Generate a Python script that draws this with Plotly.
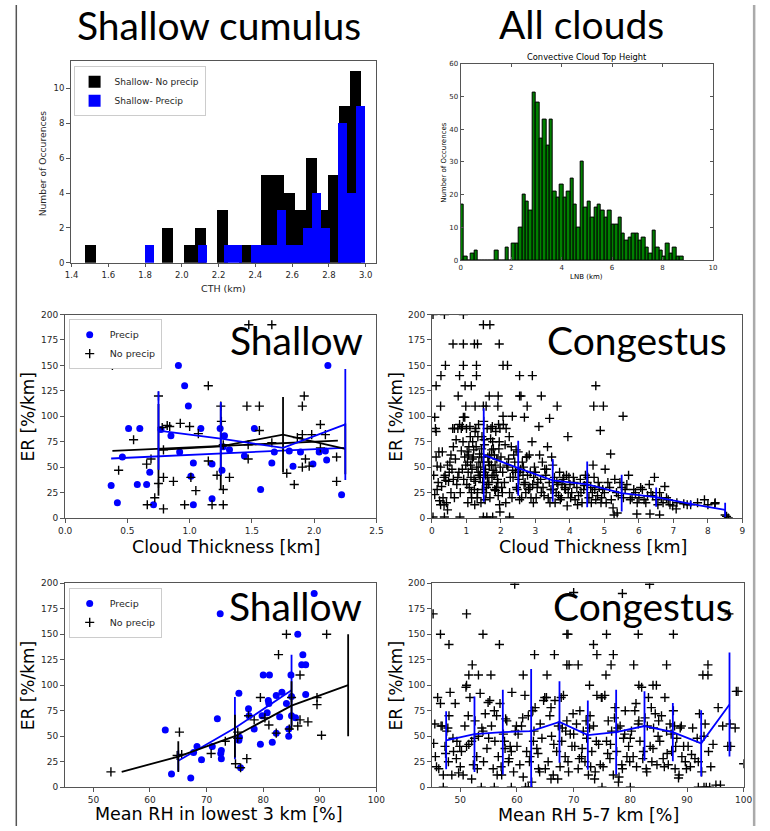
import numpy as np
import plotly.graph_objects as go

W, H = 770, 831
def px(x): return x / W
def py(y): return 1 - y / H

BLUE = "#0000ff"
# ---------------- Panel 1: Shallow cumulus CTH histogram ----------------
cth_noprecip_counts = [1,0,0,0,0,0,0,2,0,1,2,0,3,0,1,1,5,5,4,3,6,3,5,9,11]
cth_noprecip_range = [1.47, 2.972]
cth_precip_counts = [1,0,0,0,0,0,1,0,0,1,1,0,1,1,1,3,1,1,2,4,2,0,8,4,9]
cth_precip_range = [1.80, 2.992]

# ---------------- Panel 2: All clouds LNB histogram ----------------
lnb_counts = [17,1,0,2,3,0,0,0,0,0, 3,0,0,4,0,
              5,5,10,20,18,15,51,48,37,43,35,43,21,19,23,19,21,25,17,10,
              30,16,18,13,16,17,15,13,15,11,11,13,8,6,7,8,8,6,7,4,2,9,4,3,1,5,2,4,1,1]
lnb_range = [0.0, 8.82]

# ---------------- Panel 3: Shallow, ER vs cloud thickness ----------------
sh_ct_precip_x = [0.37,0.42,0.46,0.51,0.58,0.60,0.655,0.68,0.71,0.77,0.85,0.91,0.92,0.96,0.99,
                  1.01,1.03,1.03,1.09,1.18,1.18,1.245,1.26,1.28,1.32,1.44,1.52,1.57,1.66,1.68,
                  1.80,1.83,1.89,1.99,2.04,2.09,2.10,2.11,2.22,1.27]
sh_ct_precip_y = [32,15,60,88,33,88,33,45,13,87,81,150,65,130,110,
                  41,54,13,88,53,19,88,47,81,67,61,88,28,54,65,
                  66,51,65,53,65,66,57,150,23,70]
sh_ct_noprecip_x = [0.38,0.43,0.55,0.655,0.66,0.69,0.72,0.75,0.75,0.78,
                    0.79,0.79,0.79,0.82,0.84,0.87,0.925,0.96,1.00,1.01,
                    1.05,1.07,1.15,1.15,1.18,1.22,1.25,1.255,1.27,1.27,
                    1.27,1.32,1.46,1.475,1.47,1.47,1.56,1.56,1.66,1.78,
                    1.84,1.865,1.905,1.92,1.905,1.905,1.93,1.96,1.98,2.05,
                    2.05,2.09,2.18,2.18,1.66]
sh_ct_noprecip_y = [150,47,77,53,13,58,20,34,120,89,
                    40,67,9,91,90,36,93,13,90,40,
                    27,83,130,56,13,42,110,95,72,28,
                    13,40,110,190,72,58,110,86,190,44,
                    33,79,110,120,82,50,58,51,82,92,
                    69,82,60,36,74]
sh_ct_bins = [0.75, 1.25, 1.75, 2.25]
sh_ct_precip_mean = [86, 78, 69, 92]
sh_ct_precip_std = [38.5, 36, 0, 54.5]
sh_ct_noprecip_mean = [67, 70.5, 82, 68]
sh_ct_noprecip_std = [45, 42, 37, 25]
sh_ct_precip_fit_x = [0.37, 2.24]
sh_ct_precip_fit_y = [58.5, 69]
sh_ct_noprecip_fit_x = [0.38, 2.19]
sh_ct_noprecip_fit_y = [66, 76]

# ---------------- Panel 4: Congestus, ER vs cloud thickness ----------------
cg_ct_x_a = [0.05,0.08,0.10,0.12,0.15,0.18,0.20,0.22,0.25,0.28,0.30,0.32,0.35,0.38,0.40,0.42,0.45,0.48,0.50,0.52,
             0.55,0.58,0.60,0.62,0.65,0.68,0.70,0.72,0.75,0.78,0.80,0.82,0.85,0.88,0.90,0.92,0.95,0.98,0.15,0.35,
             0.55,0.75,0.95,0.25,0.45,0.65,0.85,0.12,0.62,0.88]
cg_ct_y_a = [42,23,88,85,51,35,65,17,50,31,65,20,13,42,37,15,52,36,45,55,
             62,48,88,38,88,58,77,33,88,45,92,25,88,48,75,38,99,52,28,40,
             25,40,60,13,8,20,66,60,70,90]
cg_ct_x_b = [1.0,1.02,1.05,1.08,1.1,1.12,1.15,1.18,1.2,1.22,1.25,1.28,1.3,1.32,1.35,1.38,1.4,1.42,1.45,1.48,
             1.5,1.52,1.55,1.58,1.6,1.62,1.65,1.68,1.7,1.72,1.75,1.78,1.8,1.82,1.85,1.88,1.9,1.92,1.95,1.98,
             1.03,1.13,1.23,1.33,1.43,1.53,1.63,1.73,1.83,1.93,1.07,1.17,1.27,1.37,1.47,1.57,1.67,1.77,1.87,1.97,
             1.01,1.11,1.21,1.31,1.41,1.51,1.61,1.71,1.81,1.91,1.04,1.14,1.24,1.34,1.44,1.54,1.64,1.74,1.84,1.94,
             1.06,1.16,1.26,1.36,1.46,1.56,1.66,1.76,1.86,1.96]
cg_ct_y_b = [88,65,45,30,90,52,20,75,60,38,85,70,50,25,92,63,40,15,80,55,
             95,72,48,30,88,60,35,20,78,52,90,68,42,28,85,58,38,22,75,50,
             55,40,28,80,60,45,33,67,52,92,70,58,88,42,35,25,62,47,30,88,
             33,80,67,20,50,77,40,88,62,35,15,25,13,45,68,18,55,40,27,68,
             62,48,36,55,28,42,52,75,45,13]
cg_ct_x_c = [2.0,2.05,2.1,2.15,2.2,2.25,2.3,2.35,2.4,2.45,2.5,2.55,2.6,2.65,2.7,2.75,2.8,2.85,2.9,2.95,
             2.02,2.12,2.22,2.32,2.42,2.52,2.62,2.72,2.82,2.92,2.07,2.17,2.27,2.37,2.47,2.57,2.67,2.77,2.87,2.97,
             2.04,2.14,2.24,2.34,2.44,2.54,2.64,2.74,2.84,2.94]
cg_ct_y_c = [60,45,35,88,50,25,70,40,55,30,65,45,20,50,35,60,28,45,75,40,
             30,72,58,20,45,38,55,25,62,33,92,52,40,62,28,48,33,42,20,50,
             25,15,80,47,67,18,42,60,30,15]
cg_ct_x_d = [3.0,3.05,3.1,3.15,3.2,3.25,3.3,3.35,3.4,3.45,3.5,3.55,3.6,3.65,3.7,3.75,3.8,3.85,3.9,3.95,
             3.02,3.12,3.22,3.32,3.42,3.52,3.62,3.72,3.82,3.92,3.07,3.17,3.27,3.37,3.47,3.57,3.67,3.77,3.87,3.97]
cg_ct_y_d = [45,30,90,38,55,22,42,70,35,28,52,40,25,33,45,20,38,30,42,25,
             20,62,30,48,15,28,35,18,40,12,35,25,48,20,60,15,22,33,28,40]
cg_ct_x_e = [4.0,4.05,4.1,4.15,4.2,4.25,4.3,4.35,4.4,4.45,4.5,4.55,4.6,4.65,4.7,4.75,4.8,4.85,4.9,4.95,
             4.02,4.12,4.22,4.32,4.42,4.52,4.62,4.72,4.82,4.92]
cg_ct_y_e = [33,25,40,18,30,22,38,15,28,42,35,20,30,25,40,18,22,30,15,28,
             20,35,13,25,32,40,15,28,35,20]
cg_ct_x_f = [5.0,5.1,5.2,5.3,5.4,5.5,5.6,5.7,5.8,5.9,5.05,5.15,5.25,5.35,5.45,5.55,5.65,5.75,5.85,5.95,
             6.0,6.1,6.2,6.3,6.4,6.5,6.6,6.7,6.8,6.9,6.05,6.15,6.35,6.45,6.55,6.65,6.25,6.85,
             7.1,7.3,7.5,7.7,8.0,8.2,8.5]
cg_ct_y_f = [25,35,18,38,22,30,28,42,20,25,15,30,10,25,35,20,33,18,28,15,
             20,28,15,33,22,18,25,15,20,13,30,18,25,40,13,20,22,18,
             15,14,13,15,13,14,3]
cg_ct_x_out = [0.03,0.36,0.91,1.49,1.68,0.61,0.91,1.23,1.32,1.95,0.39,0.91,1.29,2.06,2.19,0.12,0.26,0.80,1.29,2.54,
               2.91,0.96,1.14,0.76,1.66,1.92,2.54,2.58,3.17,4.75,0.25,0.98,1.25,1.49,1.57,1.91,2.76,3.63,4.69,4.97,
               5.54,0.08,0.91,2.06,2.33,2.68,3.41,4.88,3.94,5.18,5.02,4.67,6.75,7.9,8.21,7.4,6.98,7.08,8.54,8.59,
               0.03,0.36,0.81,1.49,1.59,1.76,1.97,2.25,5.28,5.37,5.94,6.32,6.6]
cg_ct_y_out = [200,200,200,190,190,171,171,171,171,171,150,150,150,150,150,130,140,140,140,140,
               140,130,130,120,120,120,120,120,120,130,110,110,110,110,110,110,110,110,110,110,
               100,99,99,100,100,99,98,86,80,63,48,52,31,18,15,13,12,9,1.6,0,
               1,1,1,1,1,1,6,1,3,5,4,4,3]
cg_ct_bins = [1.5, 2.5, 3.5, 4.5, 5.5, 6.5, 7.5, 8.5]
cg_ct_mean = [62, 49, 37, 33, 24.5, 20.5, 14, 8]
cg_ct_std = [46, 27, 21, 22.5, 18, 9.5, 3, 7]

# ---------------- Panel 5: Shallow, ER vs mean RH lowest 3 km ----------------
sh_rh_precip_x = [62.7,72.4,89.0,86.1,87.0,86.8,87.5,80.0,81.1,84.9,
                  87.5,84.1,83.3,82.3,80.9,81.0,75.7,77.4,77.5,79.8,
                  80.7,82.9,85.0,85.0,85.7,84.5,84.5,81.6,79.5,78.4,
                  75.8,75.7,71.9,72.6,72.5,72.6,71.0,69.1,68.3,67.7,
                  67.2,63.8,76.0,82.3]
sh_rh_precip_y = [56,170,190,150,130,120,120,110,110,110,
                  91,82,93,90,85,82,92,77,70,70,
                  73,69,89,70,68,50,57,44,42,57,
                  49,46,67,36,33,28,40,27,40,34,
                  9,13,19,53]
sh_rh_noprecip_x = [53.1,65.2,65.6,64.8,70.8,73.3,75.1,75.5,75.5,76.0,
                    77.1,77.4,78.4,79.5,80.3,81.0,82.3,82.7,84.1,84.6,
                    85.0,86.5,86.1,86.5,87.9,89.5,89.5,90.3,91.2]
sh_rh_noprecip_y = [15,54,32,31,33,45,23,48,54,19,
                    28,70,66,88,68,61,53,130,150,57,
                    88,110,60,66,64,81,88,51,150]
sh_rh_precip_bins = [65, 75, 85]
sh_rh_precip_mean = [26, 58, 95]
sh_rh_precip_std = [10, 30.5, 35]
sh_rh_noprecip_bins = [55, 65, 75, 85, 95]
sh_rh_noprecip_mean = [15, 30, 50, 80, 100]
sh_rh_noprecip_std = [0, 15, 21, 24, 50]

# ---------------- Panel 6: Congestus, ER vs mean RH 5-7 km ----------------
cg_rh_x_a = [45.3,45.6,46.0,46.2,46.5,46.8,47.0,47.3,47.6,47.9,48.2,48.5,48.8,49.1,49.4,49.7,45.8,46.6,47.4,48.0,48.7,49.3,49.9,45.5,47.8,
             50.2,50.5,50.8,51.1,51.4,51.7,52.0,52.3,52.6,52.9,53.2,53.5,53.8,54.1,54.4,54.7,50.0,51.0,52.0,53.0,54.0,54.9,51.5,52.5,53.7,
             55.2,55.5,55.8,56.1,56.4,56.7,57.0,57.3,57.6,57.9,58.2,58.5,58.8,59.1,59.4,59.7,55.0,56.0,57.2,58.0,59.0,59.9,56.5,57.8,58.6]
cg_rh_y_a = [43,30,88,18,82,60,12,40,55,25,93,12,35,82,45,14,20,60,33,70,48,28,40,62,58,
             35,12,60,40,70,88,45,22,65,30,50,92,58,25,72,38,20,98,8,18,55,83,42,48,0,
             85,60,18,45,70,30,82,12,52,38,65,25,40,93,15,55,48,75,20,67,35,60,12,45,28]
cg_rh_x_b = [60.2,60.5,60.8,61.1,61.4,61.7,62.0,62.3,62.6,62.9,63.2,63.5,63.8,64.1,64.4,64.7,60.0,61.0,62.2,63.0,64.0,64.9,61.5,62.8,63.7,
             65.2,65.5,65.8,66.1,66.4,66.7,67.0,67.3,67.6,67.9,68.2,68.5,68.8,69.1,69.4,69.7,65.0,66.0,67.2,68.0,69.0,69.9,66.5,67.8,68.6,
             70.2,70.5,70.8,71.1,71.4,71.7,72.0,72.3,72.6,72.9,73.2,73.5,73.8,74.1,74.4,74.7,70.0,71.0,72.2,73.0,74.0,74.9,71.5,72.8,73.7]
cg_rh_y_b = [52,22,60,10,90,35,70,30,5,45,78,38,18,62,48,85,40,68,25,55,15,88,0,75,33,
             88,25,70,50,12,85,35,60,20,45,90,30,65,15,52,40,18,78,8,58,25,72,42,88,55,
             40,62,18,75,30,55,25,48,12,70,35,60,15,90,42,22,52,28,65,20,45,88,38,58,8]
cg_rh_x_c = [75.2,75.5,75.8,76.1,76.4,76.7,77.0,77.3,77.6,77.9,78.2,78.5,78.8,79.1,79.4,79.7,75.0,76.0,77.2,78.0,79.0,79.9,76.5,77.8,78.6,
             80.2,80.5,80.8,81.1,81.4,81.7,82.0,82.3,82.6,82.9,83.2,83.5,83.8,84.1,84.4,84.7,80.0,81.0,82.2,83.0,84.0,84.9,81.5,82.8,83.7,
             85.2,85.5,85.8,86.1,86.4,86.7,87.0,87.3,87.6,87.9,88.2,88.5,88.8,89.1,89.4,89.7,85.0,86.0,87.2,88.0,89.0,89.9,86.5,87.8,88.6]
cg_rh_y_c = [20,90,45,65,28,55,12,78,35,5,60,22,48,75,30,40,88,33,68,10,52,25,42,58,18,
             55,30,75,20,62,45,98,35,68,15,88,40,25,58,72,22,48,82,28,60,38,50,65,18,78,
             45,70,28,88,55,22,62,35,75,18,48,9,58,30,40,25,65,20,52,40,60,18,33,60,12]
cg_rh_x_d = [90.2,90.6,91.0,91.4,91.8,92.2,92.6,93.0,93.4,93.8,94.2,94.6,90.8,92.0,93.2,94.0,
             95.5,96.3,97.2,97.6,98.5,99.0,47.0,56.0,59.0,62.0,66.0,75.0,80.0,92.0,93.0,95.9]
cg_rh_y_d = [40,20,58,28,48,72,15,50,0,35,20,42,32,25,62,0,
             78,60,40,62,58,94,0,0,0,0,8,0,0,0,0,2]
cg_rh_x_out = [45.2,51.1,59.6,70.0,78.6,83.4,97.4,46.5,48.0,54.0,56.9,68.8,69.0,73.5,74.1,75.8,77.0,81.4,87.6,63.1,
               66.6,52.1,68.8,69.2,70.8,76.6,80.6,86.4,93.7,51.5,53.2,55.4,61.1,65.3,75.7,92.8,93.7,51.1,72.8,81.5,
               84.0,84.6,98.7,97.7,100.0,95.1]
cg_rh_y_out = [170,170,199,191,190,199,170,150,140,150,140,150,150,140,130,150,130,150,150,130,
               130,120,120,120,120,120,120,120,120,110,110,110,110,110,110,110,110,100,100,100,
               100,100,94,40,23,2]
cg_rh_bins = [47.5, 52.5, 57.5, 62.5, 67.5, 72.5, 77.5, 82.5, 87.5, 92.5, 97.5]
cg_rh_mean = [46, 52, 54, 55, 64, 51, 54, 60, 54, 43, 81]
cg_rh_std = [28.5, 37, 41.5, 61, 40, 34, 41.5, 34, 28.5, 32.5, 51]

# =====================================================================
def hist_geom(counts, rng):
    e = np.linspace(rng[0], rng[1], len(counts) + 1)
    return (e[:-1] + e[1:]) / 2, e[1] - e[0]

fig = go.Figure()

# Panel 1
c, w = hist_geom(cth_noprecip_counts, cth_noprecip_range)
fig.add_trace(go.Bar(x=c, y=cth_noprecip_counts, width=w, marker=dict(color="black", line=dict(width=0)),
                     name="Shallow- No precip", xaxis="x", yaxis="y", legend="legend"))
c, w = hist_geom(cth_precip_counts, cth_precip_range)
fig.add_trace(go.Bar(x=c, y=cth_precip_counts, width=w, marker=dict(color=BLUE, line=dict(width=0)),
                     name="Shallow- Precip", xaxis="x", yaxis="y", legend="legend"))

# Panel 2
c, w = hist_geom(lnb_counts, lnb_range)
fig.add_trace(go.Bar(x=c, y=lnb_counts, width=w, marker=dict(color="#008000", line=dict(width=1, color="black")),
                     showlegend=False, xaxis="x2", yaxis="y2"))

dot = dict(color=BLUE, size=7)
plus = dict(symbol="cross-thin", size=6.5, color="black", line=dict(width=1.4, color="black"))

def errline(x, y, e, color, xa, ya):
    return go.Scatter(x=x, y=y, mode="lines", line=dict(color=color, width=1.8),
                      error_y=dict(type="data", array=e, visible=True, color=color, thickness=1.8, width=0),
                      showlegend=False, xaxis=xa, yaxis=ya)

# Panel 3
fig.add_trace(go.Scatter(x=sh_ct_precip_x, y=sh_ct_precip_y, mode="markers", marker=dot, name="Precip",
                         xaxis="x3", yaxis="y3", legend="legend2"))
fig.add_trace(go.Scatter(x=sh_ct_noprecip_x, y=sh_ct_noprecip_y, mode="markers", marker=plus, name="No precip",
                         xaxis="x3", yaxis="y3", legend="legend2"))
fig.add_trace(go.Scatter(x=sh_ct_noprecip_fit_x, y=sh_ct_noprecip_fit_y, mode="lines", line=dict(color="black", width=1.8),
                         showlegend=False, xaxis="x3", yaxis="y3"))
fig.add_trace(go.Scatter(x=sh_ct_precip_fit_x, y=sh_ct_precip_fit_y, mode="lines", line=dict(color=BLUE, width=1.8),
                         showlegend=False, xaxis="x3", yaxis="y3"))
fig.add_trace(errline(sh_ct_bins, sh_ct_noprecip_mean, sh_ct_noprecip_std, "black", "x3", "y3"))
fig.add_trace(errline(sh_ct_bins, sh_ct_precip_mean, sh_ct_precip_std, BLUE, "x3", "y3"))

# Panel 4
cg_ct_x = cg_ct_x_a + cg_ct_x_b + cg_ct_x_c + cg_ct_x_d + cg_ct_x_e + cg_ct_x_f + cg_ct_x_out
cg_ct_y = cg_ct_y_a + cg_ct_y_b + cg_ct_y_c + cg_ct_y_d + cg_ct_y_e + cg_ct_y_f + cg_ct_y_out
fig.add_trace(go.Scatter(x=cg_ct_x, y=cg_ct_y, mode="markers", marker=plus, showlegend=False, xaxis="x4", yaxis="y4"))
fig.add_trace(errline(cg_ct_bins, cg_ct_mean, cg_ct_std, BLUE, "x4", "y4"))

# Panel 5
fig.add_trace(go.Scatter(x=sh_rh_precip_x, y=sh_rh_precip_y, mode="markers", marker=dot, name="Precip",
                         xaxis="x5", yaxis="y5", legend="legend3"))
fig.add_trace(go.Scatter(x=sh_rh_noprecip_x, y=sh_rh_noprecip_y, mode="markers", marker=plus, name="No precip",
                         xaxis="x5", yaxis="y5", legend="legend3"))
fig.add_trace(errline(sh_rh_precip_bins, sh_rh_precip_mean, sh_rh_precip_std, BLUE, "x5", "y5"))
fig.add_trace(errline(sh_rh_noprecip_bins, sh_rh_noprecip_mean, sh_rh_noprecip_std, "black", "x5", "y5"))

# Panel 6
cg_rh_x = cg_rh_x_a + cg_rh_x_b + cg_rh_x_c + cg_rh_x_d + cg_rh_x_out
cg_rh_y = cg_rh_y_a + cg_rh_y_b + cg_rh_y_c + cg_rh_y_d + cg_rh_y_out
fig.add_trace(go.Scatter(x=cg_rh_x, y=cg_rh_y, mode="markers", marker=plus, showlegend=False, xaxis="x6", yaxis="y6"))
fig.add_trace(errline(cg_rh_bins, cg_rh_mean, cg_rh_std, BLUE, "x6", "y6"))

# ---------------- axes ----------------
TICKC = "#262626"
SPINE = "#555555"
def axis(dom, rng, dtick, tick0, fontsize, anchor, fmt=None, inside=False, ticklen=4):
    d = dict(domain=dom, range=rng, dtick=dtick, tick0=tick0, anchor=anchor,
             showgrid=False, zeroline=False, showline=True, linecolor=SPINE, linewidth=1,
             mirror="ticks" if inside else True,
             ticks="inside" if inside else "outside", ticklen=ticklen, tickcolor=SPINE, tickwidth=1,
             tickfont=dict(family="DejaVu Sans", size=fontsize, color=TICKC))
    if fmt:
        d["tickformat"] = fmt
    return d

boxes = {
    1: (65, 377, 57, 261),
    2: (463.3, 721, 59.3, 258.3),
    3: (59.3, 377.3, 313.3, 519.3),
    4: (434, 751, 313.3, 519.3),
    5: (59.3, 377.3, 585.3, 791.7),
    6: (434, 752.3, 585.3, 791.7),
}
def xd(i): return [px(boxes[i][0]), px(boxes[i][1])]
def yd(i): return [py(boxes[i][3]), py(boxes[i][2])]

layout = dict(
    width=W, height=H, margin=dict(l=0, r=0, t=0, b=0),
    paper_bgcolor="white", plot_bgcolor="white",
    barmode="overlay", bargap=0,
    xaxis=axis(xd(1), [1.395, 3.057], 0.2, 1.4, 8.5, "y", fmt=".1f", ticklen=3.5),
    yaxis=axis(yd(1), [0, 11.55], 2, 0, 8.5, "x", ticklen=3.5),
    xaxis2=axis(xd(2), [0, 10], 2, 0, 7, "y2", inside=True, ticklen=3),
    yaxis2=axis(yd(2), [0, 60], 10, 0, 7, "x2", inside=True, ticklen=3),
    xaxis3=axis(xd(3), [0, 2.5], 0.5, 0, 9, "y3", fmt=".1f"),
    yaxis3=axis(yd(3), [0, 200], 25, 0, 9, "x3"),
    xaxis4=axis(xd(4), [0, 9], 1, 0, 9, "y4"),
    yaxis4=axis(yd(4), [0, 200], 25, 0, 9, "x4"),
    xaxis5=axis(xd(5), [45, 100], 10, 50, 9, "y5"),
    yaxis5=axis(yd(5), [0, 200], 25, 0, 9, "x5"),
    xaxis6=axis(xd(6), [45, 100], 10, 50, 9, "y6"),
    yaxis6=axis(yd(6), [0, 200], 25, 0, 9, "x6"),
)
def leg(x, y, size):
    return dict(x=px(x), y=py(y), xanchor="left", yanchor="top", bgcolor="white",
                bordercolor="#cccccc", borderwidth=1, font=dict(family="DejaVu Sans", size=size, color=TICKC),
                itemwidth=30, tracegroupgap=0, traceorder="normal")
layout["legend"] = leg(68, 62, 9)
layout["legend2"] = leg(63, 318, 9.5)
layout["legend3"] = leg(63, 590, 9.5)

ann = []
def text(t, x, y, size, family="DejaVu Sans", angle=0, color="black"):
    ann.append(dict(text=t, x=px(x), y=py(y), xref="paper", yref="paper", showarrow=False,
                    xanchor="center", yanchor="middle", textangle=angle,
                    font=dict(family=family, size=size, color=color)))
BIG = "Lato"
text("Shallow cumulus", 216.5, 20, 39, BIG)
text("All clouds", 586.5, 19.5, 39, BIG)
text("Shallow", 295.5, 339, 39, BIG)
text("Congestus", 643, 339, 39, BIG)
text("Shallow", 295, 608.5, 39, BIG)
text("Congestus", 649.5, 608, 39, BIG)

text("CTH (km)", 221, 287, 9.5, color=TICKC)
text("Number of Occurences", 36, 160, 9.2, angle=-90, color=TICKC)
text("Convective Cloud Top Height", 592, 53, 8.3)
text("LNB (km)", 592, 275, 7)
text("Number of Occurences", 446, 159, 7, angle=-90)

text("Cloud Thickness [km]", 224, 549, 17.5)
text("Cloud Thickness [km]", 598, 549, 17.5)
text("ER [%/km]", 21, 417, 17, angle=-90)
text("ER [%/km]", 397, 417, 17, angle=-90)
text("Mean RH in lowest 3 km [%]", 217, 819, 17.5)
text("Mean RH 5-7 km [%]", 593.5, 820, 17.5)
text("ER [%/km]", 21, 689, 17, angle=-90)
text("ER [%/km]", 397, 689, 17, angle=-90)
layout["annotations"] = ann

layout["shapes"] = [
    dict(type="line", xref="paper", yref="paper", x0=px(9.5), x1=px(9.5), y0=0, y1=1,
         line=dict(color="#555555", width=1.5)),
    dict(type="line", xref="paper", yref="paper", x0=px(763), x1=px(763), y0=0, y1=1,
         line=dict(color="#aaaaaa", width=2.5)),
]

fig.update_layout(**layout)
fig.write_html("out.html", config={"displayModeBar": False},
               post_script="document.body.style.margin='0';document.body.style.padding='0';"
                           "document.body.style.overflow='hidden';")
